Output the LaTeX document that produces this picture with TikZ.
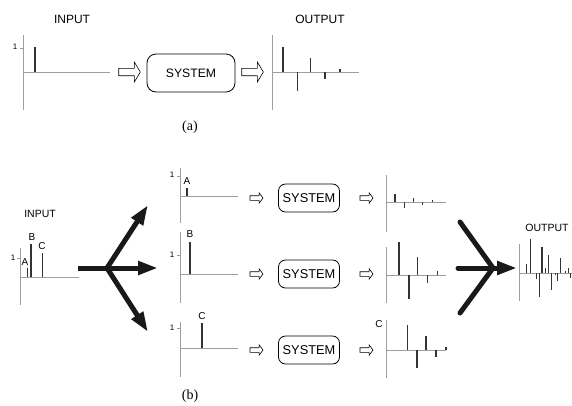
\documentclass[tikz,border=0pt]{standalone}
\usepackage{fontspec}
\setmainfont{Liberation Sans}
\newfontfamily\capfont{Liberation Serif}
\usetikzlibrary{arrows.meta}

\begin{document}
\begin{tikzpicture}[x=1pt,y=-1pt,
  axisline/.style={draw=black!38, line width=0.7pt},
  spike/.style={draw=black!80, line width=1.1pt},
  lblbig/.style={inner sep=0pt, font=\fontsize{12}{12}\selectfont},
  lblmid/.style={inner sep=0pt, font=\fontsize{10.5}{10.5}\selectfont},
  lblabc/.style={inner sep=0pt, font=\fontsize{10}{10}\selectfont},
  lblone/.style={inner sep=0pt, font=\fontsize{8}{8}\selectfont},
  caption/.style={inner sep=0pt, font=\capfont\fontsize{14}{14}\selectfont},
  sysbig/.style={draw, line width=0.8pt, rounded corners=9pt, minimum width=88pt, minimum height=38pt, inner sep=0pt, font=\fontsize{12.2}{12.2}\selectfont},
  syssmall/.style={draw, line width=0.8pt, rounded corners=7pt, minimum width=61pt, minimum height=28pt, inner sep=0pt, font=\fontsize{12.8}{12.8}\selectfont},
  hollowbig/.pic={\draw[line width=0.6pt, line join=miter]
      (-10.8,-3.7) -- (4.8,-3.7) -- (4.8,-10) -- (10.8,0) -- (4.8,10) -- (4.8,3.7) -- (-10.8,3.7) -- cycle;},
  hollowsmall/.pic={\draw[line width=0.6pt, line join=miter]
      (-6.5,-2.3) -- (2.6,-2.3) -- (2.6,-5.2) -- (6.5,0) -- (2.6,5.2) -- (2.6,2.3) -- (-6.5,2.3) -- cycle;},
  bigarrow/.style={draw=black!90, line width=5pt, line cap=round},
  bighead/.style={-{Triangle[length=20pt,width=13pt]}}
]
\useasboundingbox (0,0) rectangle (572,405);

% ---------------- (a) single impulse through the system ----------------
\node[lblbig] (inA) at (72,19) {INPUT};
\node[lblbig] (outA) at (320,19) {OUTPUT};

% input plot
\draw[axisline] (23,35) -- (23,110);
\draw[axisline] (23,72) -- (110,72);
\draw[axisline] (20,48) -- (23,48);
\node[lblone] (oneA) at (15,47) {1};
\draw[spike] (35,72) -- (35,47);

% system with hollow arrows
\pic at (129.5,72) {hollowbig};
\node[sysbig] (sysA) at (191,73) {SYSTEM};
\pic at (252.5,72) {hollowbig};

% impulse response
\draw[axisline] (272,35) -- (272,110);
\draw[axisline] (272,72) -- (359,72);
\foreach \x/\y in {283/46.7, 297.7/90.7, 310.7/58.3, 325/79, 340/69.3}
  \draw[spike] (\x,72) -- (\x,\y);

\node[caption] (capA) at (190,127) {(a)};

% ---------------- (b) decomposition into impulses ----------------
\node[lblmid] (inB) at (40,214) {INPUT};

% composite input
\draw[axisline] (20,248) -- (20,305);
\draw[axisline] (20,277) -- (79,277);
\draw[axisline] (17,258) -- (20,258);
\node[lblone] (oneB) at (13,258) {1};
\draw[spike] (27.3,277) -- (27.3,268);
\draw[spike] (31,277) -- (31,244);
\draw[spike] (42.3,277) -- (42.3,252.7);
\node[lblabc] (la) at (25,262) {A};
\node[lblabc] (lb) at (32,237) {B};
\node[lblabc] (lc) at (42,246.5) {C};

% splitting arrow
\coordinate (fs) at (78,268);
\coordinate (fj) at (107,268);
\coordinate (fu) at (148,205);
\coordinate (fm) at (158,268);
\coordinate (fd) at (148,332);
\draw[bigarrow, bighead] (fj) -- (fu);
\draw[bigarrow, bighead] (fj) -- (fd);
\draw[bigarrow, bighead, line cap=butt] (fs) -- (fm);

% row A: first impulse
\draw[axisline] (180,168) -- (180,223);
\draw[axisline] (180,196) -- (238,196);
\draw[axisline] (177,176) -- (180,176);
\node[lblone] (oneRA) at (172,175) {1};
\draw[spike] (187,196) -- (187,188);
\node[lblabc] (ra) at (187,181) {A};

% row B: second impulse
\draw[axisline] (180,232) -- (180,303);
\draw[axisline] (180,274) -- (238,274);
\draw[axisline] (177,255) -- (180,255);
\node[lblone] (oneRB) at (172,255) {1};
\draw[spike] (190,274) -- (190,242);
\node[lblabc] (rb) at (190,234) {B};

% row C: third impulse
\draw[axisline] (180,322) -- (180,377);
\draw[axisline] (180,348) -- (238,348);
\draw[axisline] (177,328) -- (180,328);
\node[lblone] (oneRC) at (172,328) {1};
\draw[spike] (202,348) -- (202,323);
\node[lblabc] (rc) at (202,316) {C};

% systems of the three rows
\foreach \r/\y in {A/198, B/274, C/350}{
  \pic at (256.5,\y) {hollowsmall};
  \node[syssmall] (sys\r) at (309,\y) {SYSTEM};
  \pic at (366.5,\y) {hollowsmall};
}

% responses of the three rows
\draw[axisline] (386,175) -- (386,232);
\draw[axisline] (386,202) -- (446,202);
\foreach \x/\y in {395/194.3, 404.3/208.3, 413.3/197.7, 422.7/205, 432.7/200.3}
  \draw[spike] (\x,202) -- (\x,\y);

\draw[axisline] (386,247) -- (386,303);
\draw[axisline] (386,275) -- (446,275);
\foreach \x/\y in {399/241.7, 409/299, 417.3/257.3, 427.7/283.3, 437.7/270.7}
  \draw[spike] (\x,275) -- (\x,\y);

\draw[axisline] (386,320) -- (386,378);
\draw[axisline] (386,350) -- (446,350);
\foreach \x/\y in {407.3/325, 417/368.3, 426/336, 436/356.7, 446/346.7}
  \draw[spike] (\x,350) -- (\x,\y);
\node[lblabc] (oc) at (379,324) {C};

% merging arrow
\coordinate (mu) at (460,222);
\coordinate (md) at (460,313);
\coordinate (mj) at (493,268);
\coordinate (ms) at (458,268);
\coordinate (mt) at (517,268);
\draw[bigarrow] (mu) -- (mj);
\draw[bigarrow] (md) -- (mj);
\draw[bigarrow, bighead] (ms) -- (mt);

% summed output
\node[lblmid] (outB) at (547,228) {OUTPUT};
\draw[axisline] (519,244) -- (519,301);
\draw[axisline] (519,273) -- (572,273);
\foreach \x/\y in {526.7/264.3, 530.3/239.3, 536.7/278.7, 539.7/297, 542/246.7,
                   545.7/267.7, 548.3/255.3, 551.7/290, 555.3/275.3, 557.7/281,
                   560.7/257.7, 565.7/271, 568.7/267.7, 570.7/277.7}
  \draw[spike] (\x,273) -- (\x,\y);

\node[caption] (capB) at (190,396) {(b)};
\end{tikzpicture}
\end{document}
